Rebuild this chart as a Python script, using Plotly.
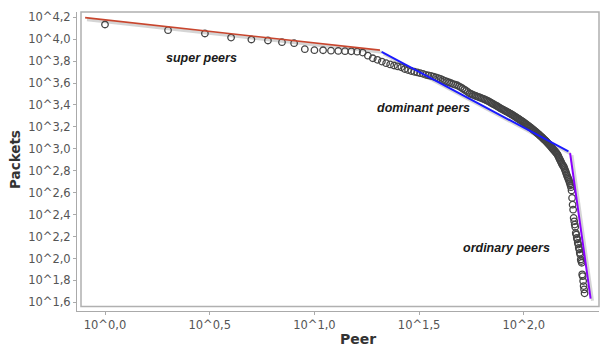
import numpy as np
import plotly.graph_objects as go

# log10(packets) for each peer, ranked
log_packets = [
    4.134, 4.082, 4.052, 4.015, 3.997, 3.988, 3.973, 3.964, 3.909, 3.900, 3.899, 3.895, 3.893, 3.891, 3.889, 3.886, 3.878,
    3.850, 3.826, 3.812, 3.796, 3.781, 3.770, 3.760, 3.752, 3.744, 3.728, 3.718, 3.710, 3.703,
    3.697, 3.690, 3.684, 3.675,
    3.670, 3.665, 3.659, 3.652, 3.645, 3.638, 3.628,
    3.620, 3.612, 3.605, 3.598, 3.591, 3.585, 3.580,
    3.570, 3.561, 3.551, 3.540, 3.530, 3.519, 3.507,
    3.500, 3.494, 3.488, 3.482, 3.477, 3.472, 3.467, 3.461, 3.456, 3.450, 3.445,
    3.439, 3.432, 3.425, 3.418, 3.412, 3.405, 3.399, 3.392, 3.386, 3.379, 3.372, 3.366, 3.360, 3.355,
    3.349, 3.344, 3.338, 3.333, 3.327, 3.322, 3.316, 3.311, 3.305, 3.299, 3.293, 3.287, 3.281, 3.275, 3.270, 3.264,
    3.258, 3.252, 3.246, 3.240, 3.234, 3.228, 3.222, 3.216, 3.210, 3.204, 3.198, 3.192, 3.186, 3.180, 3.173,
    3.167, 3.161, 3.155, 3.149, 3.143, 3.137, 3.130, 3.124, 3.118, 3.112, 3.105, 3.099, 3.093, 3.086, 3.080, 3.074, 3.067,
    3.060, 3.053, 3.046, 3.039, 3.032, 3.025, 3.018, 3.011, 3.004, 2.997, 2.990, 2.983, 2.976, 2.969, 2.962, 2.955,
    2.945, 2.934, 2.922, 2.910, 2.898, 2.886, 2.875, 2.864, 2.853, 2.845, 2.838,
    2.826, 2.812, 2.798, 2.783, 2.768, 2.753, 2.740, 2.728, 2.716, 2.700, 2.685, 2.668, 2.650, 2.620,
    2.552, 2.491, 2.445, 2.370, 2.339, 2.309, 2.288, 2.233, 2.218, 2.188, 2.173, 2.143, 2.127,
    2.097, 2.082, 2.052, 2.036, 1.991, 1.976, 1.961, 1.855, 1.839, 1.794, 1.748, 1.718, 1.682,
]
peer_rank = list(range(1, len(log_packets) + 1))
packets = [10 ** v for v in log_packets]

# fitted power-law segments (log10 coordinates of endpoints)
fit_super_logx = [-0.095, 1.313]
fit_super_logy = [4.197, 3.900]
fit_dominant_logx = [1.321, 2.213]
fit_dominant_logy = [3.885, 2.976]
fit_ordinary_logx = [2.221, 2.319]
fit_ordinary_logy = [2.961, 1.634]

x_tick_exp = [0.0, 0.5, 1.0, 1.5, 2.0]
x_tick_text = ["10^0,0", "10^0,5", "10^1,0", "10^1,5", "10^2,0"]
y_tick_exp = [1.6, 1.8, 2.0, 2.2, 2.4, 2.6, 2.8, 3.0, 3.2, 3.4, 3.6, 3.8, 4.0, 4.2]
y_tick_text = ["10^1,6", "10^1,8", "10^2,0", "10^2,2", "10^2,4", "10^2,6", "10^2,8",
               "10^3,0", "10^3,2", "10^3,4", "10^3,6", "10^3,8", "10^4,0", "10^4,2"]

segments = [
    (fit_super_logx, fit_super_logy, "#c8462e", 1.6),
    (fit_dominant_logx, fit_dominant_logy, "#1a1aff", 2.0),
    (fit_ordinary_logx, fit_ordinary_logy, "#8a00ff", 2.0),
]

fig = go.Figure()

# drop shadows of fit lines
for lx, ly, col, w in segments:
    fig.add_trace(go.Scatter(
        x=[10 ** (v + 0.009) for v in lx], y=[10 ** (v - 0.02) for v in ly],
        mode="lines", line=dict(color="rgba(150,150,150,0.4)", width=3),
        hoverinfo="skip", showlegend=False))

fig.add_trace(go.Scatter(
    x=peer_rank, y=packets, mode="markers",
    marker=dict(symbol="circle-open", size=6.5, color="#444444", line=dict(width=1.3)),
    showlegend=False))

for lx, ly, col, w in segments:
    fig.add_trace(go.Scatter(
        x=[10 ** v for v in lx], y=[10 ** v for v in ly],
        mode="lines", line=dict(color=col, width=w), showlegend=False))

tick_font = dict(family="DejaVu Sans", size=11.5, color="#555555")
fig.update_layout(
    width=600, height=346,
    margin=dict(l=77, r=1, t=12, b=35),
    paper_bgcolor="white", plot_bgcolor="white",
    xaxis=dict(type="log", range=[-0.1337, 2.359],
               tickvals=[10 ** v for v in x_tick_exp], ticktext=x_tick_text,
               showgrid=False, zeroline=False, showline=True, linecolor="#aaaaaa", linewidth=1,
               ticks="outside", ticklen=3, tickcolor="#aaaaaa", tickfont=tick_font),
    yaxis=dict(type="log", range=[1.521, 4.248],
               tickvals=[10 ** v for v in y_tick_exp], ticktext=y_tick_text,
               showgrid=False, zeroline=False, showline=True, linecolor="#aaaaaa", linewidth=1,
               ticks="outside", ticklen=3, tickcolor="#aaaaaa", tickfont=tick_font),
    shapes=[dict(type="rect", xref="paper", yref="paper",
                 x0=4 / 522, x1=1, y0=4.5 / 299, y1=1,
                 line=dict(color="#b0b0b0", width=1.5))],
)

label_font = dict(family="Liberation Sans", size=12.5, color="#1a1a1a", weight="bold", style="italic")
fig.add_annotation(x=0.462, y=3.824, text="super peers", showarrow=False, font=label_font,
                   xanchor="center", yanchor="middle")
fig.add_annotation(x=1.519, y=3.369, text="dominant peers", showarrow=False, font=label_font,
                   xanchor="center", yanchor="middle")
fig.add_annotation(x=1.918, y=2.092, text="ordinary peers", showarrow=False, font=label_font,
                   xanchor="center", yanchor="middle")

fig.add_annotation(xref="paper", yref="paper", x=(358 - 77) / 522, y=(311 - 339) / 299,
                   text="Peer", showarrow=False, xanchor="center", yanchor="middle",
                   font=dict(family="DejaVu Sans", size=14, color="#333333", weight="bold"))
fig.add_annotation(xref="paper", yref="paper", x=(15 - 77) / 522, y=(311 - 160) / 299,
                   text="Packets", showarrow=False, textangle=-90, xanchor="center", yanchor="middle",
                   font=dict(family="DejaVu Sans", size=13.5, color="#333333", weight="bold"))

fig.write_html("out.html")
